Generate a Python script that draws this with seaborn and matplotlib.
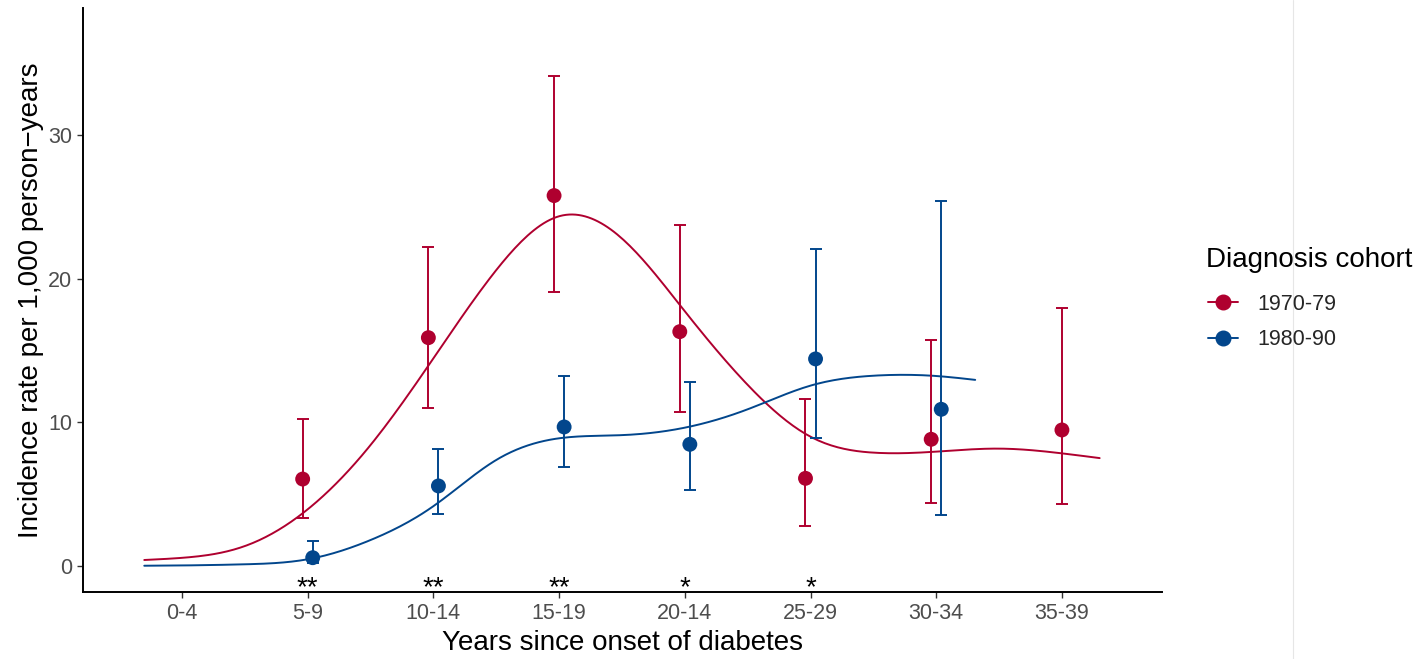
import numpy as np
import pandas as pd
import matplotlib
matplotlib.use("Agg")
import matplotlib.pyplot as plt
import seaborn as sns
from matplotlib.lines import Line2D

# ---------------- data ----------------
categories = ["0-4", "5-9", "10-14", "15-19", "20-14", "25-29", "30-34", "35-39"]
cohorts = ["1970-79", "1980-90"]

red_groups = ["5-9", "10-14", "15-19", "20-14", "25-29", "30-34", "35-39"]
red_rate = [6.04, 15.89, 25.79, 16.31, 6.09, 8.81, 9.46]
red_lower = [3.30, 10.97, 19.06, 10.73, 2.77, 4.39, 4.28]
red_upper = [10.22, 22.19, 34.11, 23.77, 11.60, 15.73, 17.98]

blue_groups = ["5-9", "10-14", "15-19", "20-14", "25-29", "30-34"]
blue_rate = [0.56, 5.56, 9.67, 8.46, 14.41, 10.90]
blue_lower = [0.19, 3.58, 6.88, 5.28, 8.88, 3.51]
blue_upper = [1.72, 8.11, 13.22, 12.82, 22.05, 25.44]

significance = ["", "**", "**", "**", "*", "*", "", ""]

# fitted trend curves, knots (x in category units)
red_curve_x = [-0.3, 0, 0.5, 1, 1.5, 2, 2.5, 3, 3.5, 4, 4.5, 5, 5.5, 6, 6.5, 7, 7.3]
red_curve_y = [0.40, 0.55, 1.37, 3.93, 8.41, 14.45, 20.6, 24.35, 22.8, 17.73, 12.6,
               8.99, 7.88, 7.95, 8.16, 7.83, 7.5]
blue_curve_x = [-0.3, 0, 0.5, 1, 1.5, 2, 2.5, 3, 3.5, 4, 4.5, 5, 5.5, 6, 6.31]
blue_curve_y = [0.0, 0.02, 0.1, 0.45, 1.79, 4.15, 7.37, 8.88, 9.1, 9.62, 10.9, 12.55,
                13.24, 13.22, 12.95]

colors = {"1970-79": "#AF002F", "1980-90": "#02468C"}


def natural_spline(xk, yk, xs):
    xk = np.asarray(xk, float)
    yk = np.asarray(yk, float)
    n = len(xk)
    h = np.diff(xk)
    A = np.zeros((n, n))
    b = np.zeros(n)
    A[0, 0] = 1
    A[-1, -1] = 1
    for i in range(1, n - 1):
        A[i, i - 1] = h[i - 1]
        A[i, i] = 2 * (h[i - 1] + h[i])
        A[i, i + 1] = h[i]
        b[i] = 3 * ((yk[i + 1] - yk[i]) / h[i] - (yk[i] - yk[i - 1]) / h[i - 1])
    c = np.linalg.solve(A, b)
    bb = (yk[1:] - yk[:-1]) / h - h * (2 * c[:-1] + c[1:]) / 3
    d = (c[1:] - c[:-1]) / (3 * h)
    idx = np.clip(np.searchsorted(xk, xs) - 1, 0, n - 2)
    dx = xs - xk[idx]
    return yk[idx] + bb[idx] * dx + c[idx] * dx ** 2 + d[idx] * dx ** 3


# ---------------- frames ----------------
pos = {c: i for i, c in enumerate(categories)}
dodge = 0.04
rows = []
for g, r, lo, hi in zip(red_groups, red_rate, red_lower, red_upper):
    off = -dodge if g in blue_groups else 0.0
    rows.append(dict(cohort="1970-79", x=pos[g] + off, rate=r, lo=lo, hi=hi))
for g, r, lo, hi in zip(blue_groups, blue_rate, blue_lower, blue_upper):
    off = dodge if g in red_groups else 0.0
    rows.append(dict(cohort="1980-90", x=pos[g] + off, rate=r, lo=lo, hi=hi))
pts = pd.DataFrame(rows)

curve_rows = []
for name, kx, ky in [("1970-79", red_curve_x, red_curve_y), ("1980-90", blue_curve_x, blue_curve_y)]:
    xs = np.linspace(kx[0], kx[-1], 300)
    ys = natural_spline(kx, ky, xs)
    curve_rows.append(pd.DataFrame({"cohort": name, "x": xs, "y": ys}))
curves = pd.concat(curve_rows, ignore_index=True)

# ---------------- plot ----------------
sns.set_theme(style="white")
plt.rcParams["font.family"] = ["Liberation Sans", "DejaVu Sans"]

W, H = 1413, 659
fig = plt.figure(figsize=(W / 100, H / 100), dpi=100)
ax = fig.add_axes([83.3 / W, 1 - 592 / H, (1162 - 83.3) / W, (592 - 8) / H])

sns.lineplot(data=curves, x="x", y="y", hue="cohort", palette=colors, lw=1.4,
             estimator=None, sort=False, legend=False, ax=ax, zorder=2)

for name in cohorts:
    sub = pts[pts.cohort == name]
    ax.errorbar(sub.x, sub.rate, yerr=[sub.rate - sub.lo, sub.hi - sub.rate], fmt="none",
                ecolor=colors[name], elinewidth=1.4, capsize=4.3, capthick=1.4, zorder=3)

sns.scatterplot(data=pts, x="x", y="rate", hue="cohort", palette=colors, s=115,
                edgecolor="none", legend=False, ax=ax, zorder=4)

for i, s in enumerate(significance):
    if s:
        ax.text(i, -2.05, s, ha="center", va="baseline", fontsize=20, color="black",
                clip_on=False)

ax.set_xlim(-0.785, 7.796)
ax.set_ylim(-1.83, 38.86)
ax.set_xticks(range(len(categories)))
ax.set_xticklabels(categories)
ax.set_yticks([0, 10, 20, 30])
ax.tick_params(axis="both", which="major", length=4, width=1.0, color="#333333",
               labelcolor="#4D4D4D", labelsize=15.5, pad=4, bottom=True, left=True)

for side in ["top", "right"]:
    ax.spines[side].set_visible(False)
for side in ["left", "bottom"]:
    ax.spines[side].set_color("black")
    ax.spines[side].set_linewidth(1.4)

ax.set_xlabel("Years since onset of diabetes", fontsize=20, color="black")
ax.set_ylabel("Incidence rate per 1,000 person\u2212years", fontsize=20, color="black")
ax.yaxis.set_label_coords(-0.036, 0.5)
ax.xaxis.set_label_coords(0.5, -0.065)

fig.text(1206 / W, 1 - 260 / H, "Diagnosis cohort", ha="left", va="center",
         fontsize=20, color="black")
handles = [Line2D([], [], color=colors[c], marker="o", markersize=10.5, lw=1.4) for c in cohorts]
leg = fig.legend(handles, cohorts, loc="center left",
                 bbox_to_anchor=(1199.4 / W, 1 - 322 / H), frameon=False, fontsize=15.5,
                 handlelength=1.4, handletextpad=0.88, labelspacing=0.69,
                 borderaxespad=0)

fig.add_artist(Line2D([1293.3 / W, 1293.3 / W], [0, 1], color="#E6E6E6", lw=0.8))

fig.savefig("out.png", dpi=100, facecolor="white")
